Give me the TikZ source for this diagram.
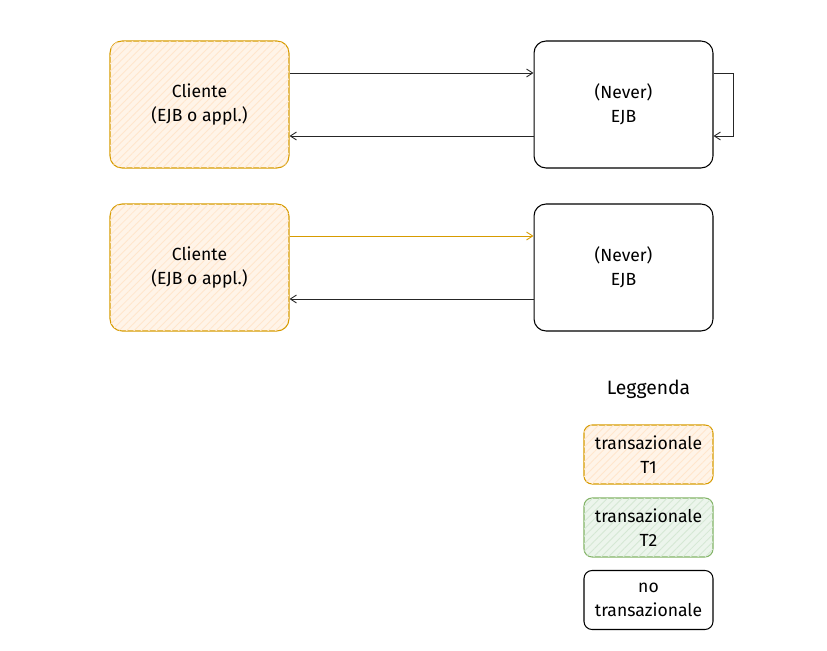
\documentclass[tikz,border=0pt]{standalone}
\usepackage{fontspec}
\setmainfont{Fira Sans}
\usetikzlibrary{patterns.meta,arrows.meta}
\definecolor{orangeline}{HTML}{D79B00}
\definecolor{orangefill}{HTML}{FFE6CC}
\definecolor{greenline}{HTML}{82B366}
\definecolor{greenfill}{HTML}{D5E8D4}
\tikzset{
  hatch/.style={pattern={Lines[angle=45,distance=3pt,line width=0.5pt]}, pattern color=#1},
  box/.style={draw, rounded corners=0.24cm, line width=0.6pt, align=center,
    font=\fontsize{10}{13.6}\selectfont, minimum width=3.58cm, minimum height=2.54cm},
  legbox/.style={box, minimum width=2.58cm, minimum height=1.18cm, rounded corners=0.16cm},
  tone/.style={draw=orangeline, fill=orangefill!45, postaction={hatch=orangefill}},
  tgreen/.style={draw=greenline, fill=greenfill!45, postaction={hatch=greenfill}},
  conn/.style={line width=0.5pt, draw=black!85, -{Straight Barb[length=3.5pt,width=4.5pt]}}
}

\begin{document}
\begin{tikzpicture}[x=0.02cm,y=-0.02cm]
\useasboundingbox (0,0) rectangle (827,651);
\node[box,tone] (cli1) at (199.5,104.5) {Cliente\\(EJB o appl.)};
\node[box] (ejb1) at (623.5,104.5) {(Never)\\EJB};
\node[box,tone] (cli2) at (199.5,267.5) {Cliente\\(EJB o appl.)};
\node[box] (ejb2) at (623.5,267.5) {(Never)\\EJB};
\draw[conn] (cli1.east |- 0,73) -- (ejb1.west |- 0,73);
\draw[conn] (ejb1.west |- 0,136) -- (cli1.east |- 0,136);
\draw[conn] (ejb1.east |- 0,73) -- ++(20,0) |- (ejb1.east |- 0,136);
\draw[conn,draw=orangeline] (cli2.east |- 0,236) -- (ejb2.west |- 0,236);
\draw[conn] (ejb2.west |- 0,299) -- (cli2.east |- 0,299);
% legenda
\node[font=\fontsize{11}{13}\selectfont] (leg) at (648.5,389) {Leggenda};
\node[legbox,tone] (t1) at (648.5,454.5) {transazionale\\T1};
\node[legbox,tgreen] (t2) at (648.5,527.5) {transazionale\\T2};
\node[legbox] (nt) at (648.5,600) {no\\transazionale};
\end{tikzpicture}
\end{document}
